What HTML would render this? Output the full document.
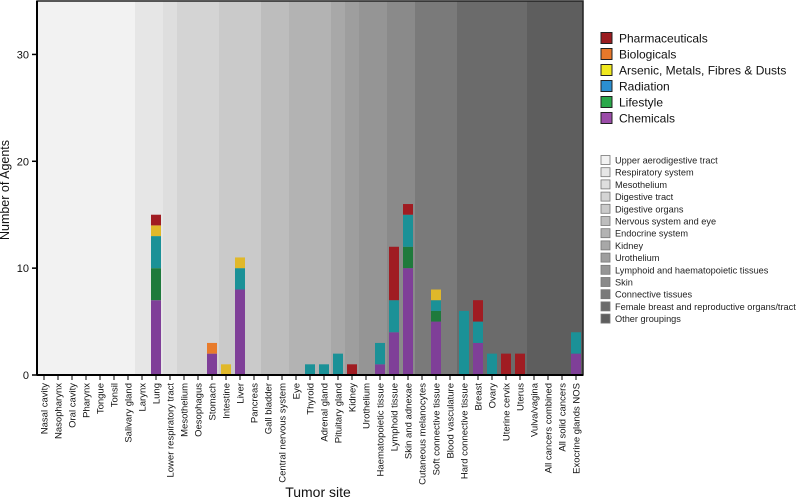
<!DOCTYPE html>
<html><head><meta charset="utf-8"><style>
html,body{margin:0;padding:0;background:#fff;width:800px;height:501px;overflow:hidden}
svg{display:block;font-family:"Liberation Sans",sans-serif}
</style></head><body>
<svg id="c" width="800" height="501" viewBox="0 0 800 501"></svg>
<script>
const categories=["Nasal cavity","Nasopharynx","Oral cavity","Pharynx","Tongue","Tonsil","Salivary gland","Larynx","Lung","Lower respiratory tract","Mesothelium","Oesophagus","Stomach","Intestine","Liver","Pancreas","Gall bladder","Central nervous system","Eye","Thyroid","Adrenal gland","Pituitary gland","Kidney","Urothelium","Haematopoietic tissue","Lymphoid tissue","Skin and adnexae","Cutaneous melanocytes","Soft connective tissue","Blood vasculature","Hard connective tissue","Breast","Ovary","Uterine cervix","Uterus","Vulva/vagina","All cancers combined","All solid cancers","Exocrine glands NOS"];
const chemicals=[0,0,0,0,0,0,0,0,7,0,0,0,2,0,8,0,0,0,0,0,0,0,0,0,1,4,10,0,5,0,0,3,0,0,0,0,0,0,2];
const lifestyle=[0,0,0,0,0,0,0,0,3,0,0,0,0,0,0,0,0,0,0,0,0,0,0,0,0,0,2,0,1,0,0,0,0,0,0,0,0,0,0];
const radiation=[0,0,0,0,0,0,0,0,3,0,0,0,0,0,2,0,0,0,0,1,1,2,0,0,2,3,3,0,1,0,6,2,2,0,0,0,0,0,2];
const arsenic=[0,0,0,0,0,0,0,0,1,0,0,0,0,1,1,0,0,0,0,0,0,0,0,0,0,0,0,0,1,0,0,0,0,0,0,0,0,0,0];
const biologicals=[0,0,0,0,0,0,0,0,0,0,0,0,1,0,0,0,0,0,0,0,0,0,0,0,0,0,0,0,0,0,0,0,0,0,0,0,0,0,0];
const pharmaceuticals=[0,0,0,0,0,0,0,0,1,0,0,0,0,0,0,0,0,0,0,0,0,0,1,0,0,5,1,0,0,0,0,2,0,2,2,0,0,0,0];
const groupNames=["Upper aerodigestive tract","Respiratory system","Mesothelium","Digestive tract","Digestive organs","Nervous system and eye","Endocrine system","Kidney","Urothelium","Lymphoid and haematopoietic tissues","Skin","Connective tissues","Female breast and reproductive organs/tract","Other groupings"];
const groupSizes=[7,2,1,3,3,2,3,1,1,2,2,3,5,4];
const yTicks=[0,10,20,30];

const svg=document.getElementById('c');const NS='http://www.w3.org/2000/svg';
function mk(t,a,p){const e=document.createElementNS(NS,t);for(const k in a)e.setAttribute(k,a[k]);(p||svg).appendChild(e);return e;}
const X0=37,X1=583,Y0=375,Ytop=1,YMAX=35;
const step=(X1-X0)/categories.length;
const xs=i=>X0+step*i;
const ys=v=>Y0-(Y0-Ytop)*v/YMAX;
const bandCols=["#f2f2f2","#e6e6e6","#dedede","#d4d4d4","#cacaca","#bdbdbd","#b3b3b3","#a8a8a8","#9e9e9e","#959595","#8a8a8a","#7a7a7a","#6b6b6b","#5e5e5e"];
let gi=0;
groupSizes.forEach((n,g)=>{
  const r=mk('rect',{x:xs(gi),y:Ytop,width:step*n,height:Y0-Ytop,fill:bandCols[g]});
  
  
  gi+=n;
});
const series=[["chemicals",chemicals,"#7f3f98"],["lifestyle",lifestyle,"#1f7a3c"],["radiation",radiation,"#1b9197"],["arsenic",arsenic,"#e0b82a"],["biologicals",biologicals,"#e87b2b"],["pharmaceuticals",pharmaceuticals,"#a01c22"]];
categories.forEach((c,i)=>{
  let acc=0;
  series.forEach(([nm,arr,col])=>{
    const v=arr[i];if(!v)return;
    const r=mk('rect',{x:xs(i)+2,y:ys(acc+v),width:step-4,height:ys(acc)-ys(acc+v),fill:col});
    
    
    acc+=v;
  });
  const tk=mk('line',{x1:xs(i)+step/2,x2:xs(i)+step/2,y1:Y0,y2:Y0+5,stroke:'#000','stroke-width':1});
  
  
  const t=mk('text',{x:0,y:0,'font-size':9.5,'text-anchor':'end',transform:`translate(${xs(i)+step/2+3.5},${Y0+8}) rotate(-90)`,fill:'#111'});
  t.textContent=c;
  
  
});
mk('rect',{x:X0,y:Ytop,width:X1-X0,height:Y0-Ytop,fill:'none',stroke:'#222','stroke-width':1.5});
const ax=mk('line',{x1:X0,x2:X0,y1:Ytop,y2:Y0,stroke:'#000','stroke-width':2});

const bx=mk('line',{x1:X0,x2:X1,y1:Y0,y2:Y0,stroke:'#000','stroke-width':2});

yTicks.forEach(v=>{
  mk('line',{x1:X0-5,x2:X0,y1:ys(v),y2:ys(v),stroke:'#000','stroke-width':1.5});
  const t=mk('text',{x:X0-8,y:ys(v)+4,'font-size':11,'text-anchor':'end',fill:'#111'});
  t.textContent=v;
  
  
});
const yt=mk('text',{x:0,y:0,'font-size':12.5,'text-anchor':'middle',transform:'translate(9,190) rotate(-90)',fill:'#111'});
yt.textContent='Number of Agents';
const xt=mk('text',{x:318,y:497,'font-size':14,'text-anchor':'middle',fill:'#111'});
xt.textContent='Tumor site';
const leg1=[["Pharmaceuticals","#9b1c20"],["Biologicals","#e8782a"],["Arsenic, Metals, Fibres & Dusts","#f0e81e"],["Radiation","#2b8fd0"],["Lifestyle","#2aa84a"],["Chemicals","#9b4ca8"]];
leg1.forEach(([n,c],i)=>{
  const y=38+16*i;
  const g=mk('g',{});
  
  mk('rect',{x:601,y:y-5.5,width:11,height:11,fill:c,stroke:'#222','stroke-width':1},g);
  const t=mk('text',{x:619,y:y+4.5,'font-size':12,fill:'#111'},g);t.textContent=n;
});
groupNames.forEach((n,i)=>{
  const y=160+12.2*i;
  const g=mk('g',{});
  
  mk('rect',{x:601,y:y-4.5,width:9,height:9,fill:bandCols[i],stroke:'#777','stroke-width':0.8},g);
  const t=mk('text',{x:615,y:y+3.5,'font-size':9.2,fill:'#222'},g);t.textContent=n;
});
</script>
</body></html>
